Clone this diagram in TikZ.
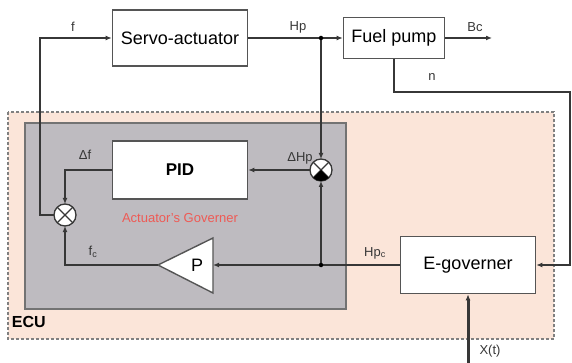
\documentclass[tikz,border=0pt]{standalone}
\usepackage{fontspec}
\setmainfont{Liberation Sans}
\usepackage{xcolor}
\usetikzlibrary{positioning}
\usetikzlibrary{arrows.meta}

\definecolor{ecufill}{RGB}{251,229,217}
\definecolor{govfill}{RGB}{190,187,192}
\definecolor{wire}{RGB}{55,55,55}
\definecolor{govred}{RGB}{238,90,85}

\tikzset{
  block/.style={draw=wire!85,line width=1.6,fill=white,inner sep=0,font=\fontsize{18}{20}\selectfont},
  sig/.style={font=\fontsize{13}{15}\selectfont,text=wire},
  junction/.style={circle,draw=wire,line width=1.3,fill=white,minimum size=22,inner sep=0,outer sep=0},
  dot/.style={circle,fill=black,inner sep=0,minimum size=4.5},
}

\begin{document}
\begin{tikzpicture}[x=1pt,y=-1pt,>={Latex[length=6,width=5]},line width=1.2,draw=wire]
\useasboundingbox (0,0) rectangle (572,363);

% ECU frame and actuator's governer area
\draw[draw=gray,fill=ecufill,dash pattern=on 3 off 2] (8,112) rectangle (554,339);
\draw[draw=gray!90!black,fill=govfill] (25,123) rectangle (346,309);
\node[anchor=west,font=\bfseries\fontsize{16}{18}\selectfont] (ecu) at (8,322) {ECU};
\node[font=\fontsize{13}{15}\selectfont,text=govred] (gov) at (180,218) {Actuator's Governer};

% blocks
\node[block,minimum width=135,minimum height=56] (S)   at (180,38)  {Servo-actuator};
\node[block,minimum width=101,minimum height=41] (F)   at (394,38)  {Fuel pump};
\node[block,minimum width=135,minimum height=58,font=\bfseries\fontsize{17}{20}\selectfont] (PID) at (180,170) {PID};
\node[block,minimum width=135,minimum height=57] (E)   at (468,265) {E-governer};
\node[junction] (X1) at (65,215)  {};
\node[junction] (X2) at (321,170) {};

% gain P
\draw[draw=wire!85,fill=white,line width=1.4] (213,238) -- (158,265) -- (213,293) -- cycle;
\node[font=\fontsize{18}{20}\selectfont] (P) at (197,265) {P};
\coordinate (Pin)  at (213,265);
\coordinate (Pout) at (158,265);

% summing junctions
\foreach \j in {X1,X2}
  \draw (\j.north west) -- (\j.south east) (\j.north east) -- (\j.south west);
\fill (X2.center) -- +(-7.8,7.8) arc[start angle=135,end angle=45,radius=11] -- cycle;

% helper points
\coordinate (hp)  at (321,38);
\coordinate (hpc) at (321,265);
\coordinate (fb)  at (40,38);
\coordinate (bc)  at (492,38);
\coordinate (nr)  at (570,92);
\coordinate (xt)  at (468,363);

% connectors
\draw[->] (S.east) -- (F.west);
\draw[->] (F.east) -- (bc);
\draw[->] (F.south) |- (nr) |- (E.east);
\draw[->] (hp) -- (X2.north);
\draw[->] (hpc) -- (X2.south);
\draw[->] (X2.west) -- (PID.east);
\draw[->] (PID.west) -| (X1.north);
\draw[->] (E.west) -- (Pin);
\draw[->] (Pout) -| (X1.south);
\draw[->] (X1.west) -| (fb) -- (S.west);
\draw[->,line width=3] (xt) -- (E.south);
\node[dot] at (hp)  {};
\node[dot] at (hpc) {};

% signal names
\node[sig] (lf)   at (73,27)   {f};
\node[sig] (lhp)  at (298,27)  {Hp};
\node[sig] (lbc)  at (475,27)  {Bc};
\node[sig] (ln)   at (432,77)  {n};
\node[sig] (ldf)  at (85,155)  {Δf};
\node[sig] (ldhp) at (300,158) {ΔHp};
\node[sig] (lfc)  at (93,252)  {f\textsubscript{c}};
\node[sig] (lhpc) at (375,253) {Hp\textsubscript{c}};
\node[sig] (lxt)  at (490,351) {X(t)};
\end{tikzpicture}
\end{document}
